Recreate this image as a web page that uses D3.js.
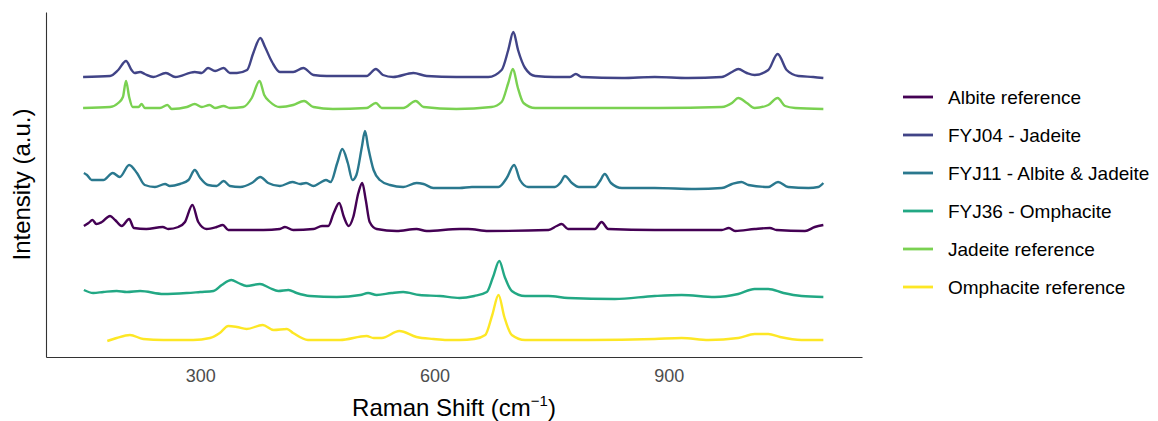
<!DOCTYPE html>
<html>
<head>
<meta charset="utf-8">
<script src="https://cdn.jsdelivr.net/npm/d3@7"></script>
<style>
  body { margin: 0; background: white; }
  text { font-family: "Liberation Sans", Arial, sans-serif; }
</style>
</head>
<body>
<div id="chart"></div>
<script>
// spectra: [raman shift, stacked intensity (a.u.)]
const albiteRef = [[151,131],[157,134],[162,137],[167,133],[174,135],[184.5,141],[191,137],[199.5,131],[209,138],[215,129],[231,128],[252,130],[259,128],[272,130],[280.5,135],[290,152],[297.5,135],[308,128],[321,130],[329,132],[336,127],[381,127],[402,128],[408.5,130],[419,127],[445,128],[456,131],[464,131],[471,144],[478,154],[484,140],[490,131],[496,140],[502.5,164],[507.5,174],[512,157],[517,135],[526,128],[551.5,126],[577,128],[590,126],[632,128],[643,128],[669,126],[746,127],[756.5,131],[763,133],[771,128],[805.5,128],[814,135],[822.5,128],[882,127],[968,127],[977,129],[985,126],[1010,128],[1029.5,129],[1038,127],[1074.5,126],[1087,130],[1098,132]];

const fyj04 = [[150,280],[184.5,281],[195,287],[205,296],[212,287],[216,284],[223,285],[229,283],[240,280],[256,284],[268,280],[293,285],[302,284],[310,289],[319,286],[330,289],[338,284],[347,284],[360,287],[368,304],[377,319],[383,310],[392,295],[402,285],[419,285],[432,289],[445,282],[462,281],[488,281],[513,281],[525,288],[534,282],[547,280],[573,284],[590,281],[628,280],[669,280],[686,287],[694.5,307],[701,325],[707,307],[716,289],[729,281],[754,280],[773.5,280],[781,283],[788.5,280],[840,279],[882,280],[925,279],[968,280],[981,285],[989,288],[1000,284],[1010,282],[1027.5,287],[1039.5,303],[1051,287],[1066,281],[1085,280],[1098,279]];

const fyj11 = [[151,184],[155,182],[161,177],[176,177],[188,184],[197,180],[209,192],[219,184],[229,172],[242,170],[255,173],[261,171],[274,173],[285,177],[293,187],[300,179],[310,172],[321,171],[330,176],[338,171],[351,170],[366,174],[377,180],[387,174],[402,171],[418,175],[428,173],[435.5,174],[445,171],[453,174],[461,177],[467,175],[475.5,194],[482,208],[489,194],[495,177],[500,182],[507,210],[511,226],[515,210],[522,187],[530,177],[543,172],[560,170],[577,174],[586,173],[598.5,169],[632,169],[648,170],[682,170],[692.5,179],[702,192],[709.5,177],[720,170],[754,170],[762,175],[767,181],[776,174],[785,170],[805.5,170],[812,176],[818,183],[826,174],[840,169],[882,169],[934,168],[968,169],[981,173],[993,175],[1002,172],[1027.5,170],[1040,175],[1053,170],[1079,169],[1091.5,170],[1098,174]];

const fyj36 = [[151,67],[163,64],[176,65],[193,66],[206,65],[223,66],[253,63],[283,64],[300,65],[317,66],[327.5,72],[340,77],[349,74],[359.5,71],[376.5,73],[389,69],[400,66],[413,67],[423.5,64],[440.5,61],[475,60],[505,62],[515,64],[526,62],[545,64],[560,65],[581,62],[607,61],[632,59],[651,61],[667,65],[675,80],[683,96],[690,80],[699,66],[716,61],[746,61],[771,59],[831,58],[882,61],[916.5,62],[959,60],[989,63],[1010,68],[1027.5,68],[1047,64],[1070,61],[1098,60]];

const jadeiteRef = [[150,249],[184.5,250],[195,254],[201,260],[205,276],[209,260],[213.5,250],[221,250],[225,253],[229,249],[248.5,249],[258,252],[263.5,248],[283,250],[293,253],[302,250],[312,252],[319,249],[330,251],[338,249],[355,250],[366,259],[376,276],[382,262],[389.5,255],[402,250],[419,252],[433,256],[445,250],[470,248],[513,249],[525,254],[532.5,249],[560,249],[576,256],[586,250],[628,248],[673,250],[686,255],[694.5,274],[700.5,288],[706.5,270],[714,254],[729,249],[781,249],[840,249],[886.6,249],[968,250],[981,254],[989,259],[1000,254],[1010,249],[1027.5,252],[1039.5,259],[1049,251],[1062,249],[1098,248]];

const omphaciteRef = [[181,16],[193,19],[210,22],[227,18],[253,17],[291,17],[312.5,19],[325,24],[336,31],[347,30],[359.5,28],[380,32],[394,27],[411,28],[419,24],[438,17],[479,17],[513,21],[522,19],[532.5,19],[555,26],[577,20],[598.5,18],[616,17],[632,17],[651,18],[665,22],[674,42],[682,62],[689.5,40],[699,22],[716,17],[797,17],[882,18],[916.5,19],[951,17],[989,19],[1010,23],[1027.5,23],[1042.5,20],[1070,17],[1098,17]];

const seriesNames = ['Albite reference', 'FYJ04 - Jadeite', 'FYJ11 - Albite & Jadeite',
  'FYJ36 - Omphacite', 'Jadeite reference', 'Omphacite reference'];
const seriesData = [albiteRef, fyj04, fyj11, fyj36, jadeiteRef, omphaciteRef];
const seriesColors = ['#440154', '#414487', '#2A788E', '#22A884', '#7AD151', '#FDE725'];
const xTicks = [300, 600, 900];

let width = 1158, height = 421;
let margin = {top: 12, right: 296, bottom: 64, left: 46};

let svg = d3.select('#chart').append('svg')
  .attr('width', width)
  .attr('height', height);

let sx = d3.scaleLinear().domain([102.5, 1147.5]).range([margin.left, width - margin.right]);
let sy = d3.scaleLinear().domain([0, 345]).range([height - margin.bottom, margin.top]);

let line = d3.line()
  .x(d => sx(d[0]))
  .y(d => sy(d[1]))
  .curve(d3.curveMonotoneX);

// spectra
svg.append('g').selectAll('path')
  .data(seriesData)
  .join('path')
    .attr('d', line)
    .attr('fill', 'none')
    .attr('stroke', (d, i) => seriesColors[i])
    .attr('stroke-width', 2.4)
    .attr('stroke-linejoin', 'round');

// axes
let xAxis = svg.append('g')
  .attr('transform', `translate(0,${height - margin.bottom})`)
  .call(d3.axisBottom(sx).tickValues(xTicks).tickSize(0).tickPadding(12));
xAxis.select('.domain').attr('stroke', '#333').attr('stroke-width', 1.1);
xAxis.selectAll('text')
  .attr('fill', '#4D4D4D')
  .attr('font-size', 18)
  .attr('font-family', '"Liberation Sans", Arial, sans-serif');

let yAxis = svg.append('g')
  .attr('transform', `translate(${margin.left},0)`)
  .call(d3.axisLeft(sy).tickValues([]).tickSize(0));
yAxis.select('.domain').attr('stroke', '#333').attr('stroke-width', 1.1);

// axis titles
let xTitle = svg.append('text')
  .attr('x', (margin.left + width - margin.right) / 2)
  .attr('y', 416)
  .attr('text-anchor', 'middle')
  .attr('font-size', 24)
  .attr('fill', 'black');
xTitle.append('tspan').text('Raman Shift (cm');
xTitle.append('tspan').text('\u22121').attr('font-size', 15).attr('dy', -10);
xTitle.append('tspan').text(')').attr('dy', 10);

svg.append('text')
  .attr('transform', `translate(30,${(margin.top + height - margin.bottom) / 2}) rotate(-90)`)
  .attr('text-anchor', 'middle')
  .attr('font-size', 24)
  .attr('fill', 'black')
  .text('Intensity (a.u.)');

// legend
let legend = svg.append('g').selectAll('g')
  .data(seriesNames)
  .join('g')
    .attr('transform', (d, i) => `translate(903,${97 + i * 38})`);
legend.append('line')
  .attr('x1', 0).attr('x2', 30)
  .attr('stroke', (d, i) => seriesColors[i])
  .attr('stroke-width', 2.8);
legend.append('text')
  .attr('x', 45)
  .attr('dy', '0.35em')
  .attr('font-size', 19)
  .attr('fill', 'black')
  .text(d => d);
</script>
</body>
</html>
